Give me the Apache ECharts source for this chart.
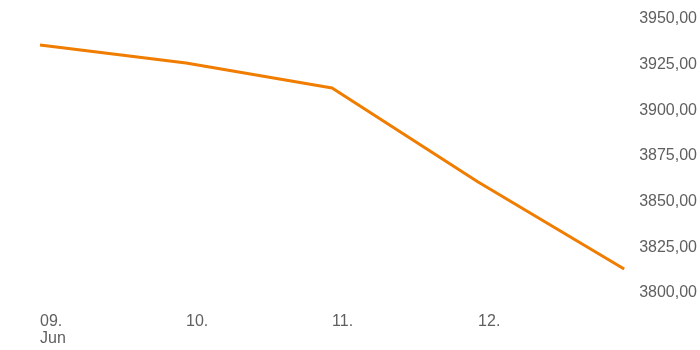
<!DOCTYPE html>
<html>
<head>
<meta charset="utf-8">
<script src="https://cdn.jsdelivr.net/npm/echarts@6/dist/echarts.min.js"></script>
<style>html,body{margin:0;padding:0;background:#fff}#c{width:700px;height:350px}</style>
</head>
<body>
<div id="c"></div>
<script>
const categories = ['09.\nJun', '10.', '11.', '12.', ''];
const values = [3935.8, 3925.9, 3912.2, 3860.8, 3813.1];
const yMin = 3800, yMax = 3950, yStep = 25;

const chart = echarts.init(document.getElementById('c'), null, {renderer: 'canvas'});
chart.setOption({
  animation: false,
  grid: {left: 40, right: 75, top: 19, bottom: 57},
  xAxis: {
    type: 'category',
    data: categories,
    boundaryGap: false,
    axisLine: {show: false},
    axisTick: {show: false},
    splitLine: {show: false},
    axisLabel: {
      color: '#5f5f5f',
      fontFamily: 'Liberation Sans, Arial, sans-serif',
      fontSize: 16,
      lineHeight: 17,
      align: 'left',
      margin: 20,
      interval: 0
    }
  },
  yAxis: {
    type: 'value',
    position: 'right',
    min: yMin, max: yMax, interval: yStep,
    axisLine: {show: false},
    axisTick: {show: false},
    splitLine: {show: false},
    axisLabel: {
      color: '#5f5f5f',
      fontFamily: 'Liberation Sans, Arial, sans-serif',
      fontSize: 16,
      margin: 15,
      formatter: v => v.toFixed(2).replace('.', ',')
    }
  },
  series: [{
    type: 'line',
    data: values,
    symbol: 'none',
    lineStyle: {color: '#f07c00', width: 3}
  }]
});
</script>
</body>
</html>
